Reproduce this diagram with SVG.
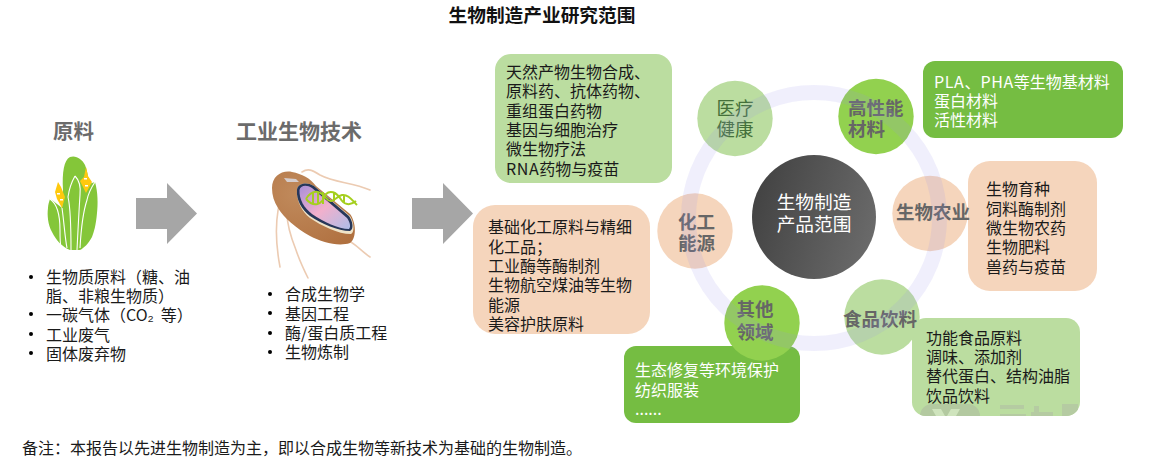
<svg xmlns="http://www.w3.org/2000/svg" width="1164" height="463" viewBox="0 0 1164 463">
<style>
text{font-family:"Noto Sans CJK SC","Liberation Sans",sans-serif;font-size:16px;fill:#1a1a1a}
.w{fill:#fff}
.title{font-size:18.7px;font-weight:700;fill:#111;text-anchor:middle}
.head{font-family:"Liberation Serif","Noto Sans CJK SC",serif;font-weight:700;fill:#6b6b6b;font-size:20.5px}
.lab{font-size:18.5px;font-weight:700;fill:#666;text-anchor:middle}
.peach{fill:#f5d5bc}.lg{fill:#bbdda0}.dg{fill:#75bd42}.br{fill:#92d14f}
.fl{fill:none;stroke:#eccbb2;stroke-width:1.6;stroke-linecap:round}
.wl{fill:none;stroke:#fff;stroke-width:1.100}
.dna{fill:none;stroke:#a5cf1e;stroke-width:2}
.sp{letter-spacing:0.6px}
</style>
<defs>
<linearGradient id="cg" x1="0" y1="0.3" x2="1" y2="0.6"><stop offset="0" stop-color="#424242"/><stop offset="1" stop-color="#6a6a6a"/></linearGradient>
<radialGradient id="bac" cx="0.3" cy="0.3" r="0.9"><stop offset="0" stop-color="#c08a5c"/><stop offset="1" stop-color="#b0703f"/></radialGradient>
<linearGradient id="cyt" x1="0" y1="0" x2="1" y2="1"><stop offset="0" stop-color="#a98fd8"/><stop offset="0.5" stop-color="#f2b0cc"/><stop offset="1" stop-color="#aebde8"/></linearGradient>
<clipPath id="foodclip"><rect x="912" y="318" width="168" height="98" rx="14"/></clipPath>
</defs>

<text class="title" x="542" y="21.500">生物制造产业研究范围</text>

<g id="raw">
<text class="head" x="53" y="139">原料</text>
<g id="corn-icon">
<path fill="#84c639" d="M50 199C54 201 58 205 62 208L63 190C62 172 64 160 70 157C76 155 82 159 85 165C87 170 88 175 89 184L95 182C98 192 98 205 97 213C96 225 94 232 92 237C88 244 84 248 80 250L70 250C62 247 56 240 52 232C48 225 47 215 48 208C48 205 49 202 50 199Z"/>
<path class="wl" d="M50 199C56 203 60 214 60 230C60 238 60 243 61 248M75 176C71 183 69 190 68 197C71 210 71 230 71 250M75 176C79 180 81 186 80 195C79 210 78 230 77 250M95 182C91 188 88 195 87 200C83 212 81 230 80 248M62 208C64 222 65 238 67 248"/>
<path fill="#ffc90e" d="M58 182L61 187L65 197L62 208L57 199L55 192Z"/>
<path fill="#ffc90e" d="M86 167L88 176L92 182L86 193L80 181L84 177Z"/>
<path fill="#fff" d="M57 193h3v1.500h-3zM60 199h3v1.500h-3zM84 178h3v1.500h-3zM85 185h3v1.500h-3z"/>
</g>
<circle cx="31" cy="277" r="2"/><text x="46" y="282.500">生物质原料（糖、油</text>
<text x="46" y="302">脂、非粮生物质）</text>
<circle cx="31" cy="314" r="2"/><text x="46" y="321">一碳气体（CO₂<tspan dx="7">等）</tspan></text>
<circle cx="31" cy="334" r="2"/><text x="46" y="340.500">工业废气</text>
<circle cx="31" cy="353" r="2"/><text x="46" y="359.500">固体废弃物</text>
</g>

<g id="tech">
<text class="head" x="236" y="139" style="font-size:21px">工业生物技术</text>
<g id="bacterium-icon">
<path class="fl" d="M302 172C308 168 312 170 320 175C335 183 352 182 370 190M347 240C355 243 362 252 370 257M283 192C276 210 274 235 280 267M287 213C287 225 292 240 296 250C300 262 304 270 308 278"/>
<path fill="url(#bac)" d="M272 188C272 176 282 170 292 172C302 174 310 178 316 186L350 214C356 222 357 238 350 243C338 247 322 242 310 236C296 228 284 218 278 208C274 202 272 195 272 188Z"/>
<path fill="#d9d9e2" d="M284 178l12 1l3 3l-12 0z" opacity="0.85"/>
<path fill="#efe3c8" d="M297 190C297 184 306 181 314 186L350 216C354 222 355 232 351 234C338 234 322 226 310 218C302 212 296 200 297 190Z"/>
<path fill="#27375a" d="M297 190C297 184 306 181 314 186L349 216C353 222 354 229 350 231C338 231 322 224 310 216C302 210 296 200 297 190Z"/>
<path fill="url(#cyt)" d="M299.500 190C300 186 306 184 312 188L347 218C350 222 351 227 349 229C338 229 324 222 312 214C304 208 299 199 299.500 190Z"/>
<path class="dna" d="M306 199C312 189 320 190 326 198C332 206 336 196 342 195C348 194 352 200 357 205M306 199C314 208 322 205 326 194C330 190 336 192 340 198C344 205 350 206 356 201M313 193v10M318 192v12M323 192v12M334 193v8M344 195v8"/>
</g>
<circle cx="270" cy="294" r="2"/><text x="285" y="300">合成生物学</text>
<circle cx="270" cy="313" r="2"/><text x="285" y="319.500">基因工程</text>
<circle cx="270" cy="333" r="2"/><text x="285" y="339">酶/蛋白质工程</text>
<circle cx="270" cy="352" r="2"/><text x="285" y="358">生物炼制</text>
</g>

<g id="connectors" fill="#a6a6a6">
<path d="M136 198H167V183L197 213.500L167 244V229H136Z"/>
<path d="M412 198H443V183L473 213.500L443 244V229H412Z"/>
</g>

<g id="box-medical">
<rect class="lg" x="495" y="54" width="177" height="129" rx="16"/>
<text x="506" y="78">天然产物生物合成、</text>
<text x="506" y="97.300">原料药、抗体药物、</text>
<text x="506" y="116.600">重组蛋白药物</text>
<text x="506" y="136">基因与细胞治疗</text>
<text x="506" y="155.300">微生物疗法</text>
<text x="506" y="174.600"><tspan class="sp">RNA</tspan>药物与疫苗</text>
</g>
<g id="box-chem">
<rect class="peach" x="473" y="205" width="177" height="129" rx="22"/>
<text x="488" y="233">基础化工原料与精细</text>
<text x="488" y="252.500">化工品；</text>
<text x="488" y="272">工业酶等酶制剂</text>
<text x="488" y="291">生物航空煤油等生物</text>
<text x="488" y="310.500">能源</text>
<text x="488" y="330">美容护肤原料</text>
</g>
<g id="box-material">
<rect class="dg" x="923" y="61" width="200" height="77" rx="12"/>
<text class="w" x="934" y="87.500"><tspan class="sp">PLA</tspan>、<tspan class="sp">PHA</tspan>等生物基材料</text>
<text class="w" x="934" y="107">蛋白材料</text>
<text class="w" x="934" y="126">活性材料</text>
</g>
<g id="box-agri">
<rect class="peach" x="968" y="161" width="129" height="130" rx="22"/>
<text x="986" y="195">生物育种</text>
<text x="986" y="214.500">饲料酶制剂</text>
<text x="986" y="234">微生物农药</text>
<text x="986" y="253">生物肥料</text>
<text x="986" y="272.500">兽药与疫苗</text>
</g>
<g id="box-food">
<rect class="lg" x="912" y="318" width="168" height="98" rx="14"/>
<g clip-path="url(#foodclip)">
<rect x="920" y="404" width="60" height="30" rx="12" fill="#b3c9a0"/>
<path fill="#cfe4bd" d="M932 409h9l4 7h2l4-7h9l-8 14h-12z"/>
<path fill="#b5cba2" d="M1000 405h24v4h-24zM1000 414h26v4h-26zM1034 406h5v12h-5zM1031 412h22v4h-22zM1062 404h16v16h-16z"/>
</g>
<text x="926" y="343.500">功能食品原料</text>
<text x="926" y="363">调味、添加剂</text>
<text x="926" y="382">替代蛋白、结构油脂</text>
<text x="926" y="401.500">饮品饮料</text>
</g>
<g id="box-other">
<rect class="dg" x="624" y="346" width="176" height="77" rx="12"/>
<text class="w" x="635" y="376">生态修复等环境保护</text>
<text class="w" x="635" y="395.500">纺织服装</text>
<text class="w" x="635" y="415">......</text>
</g>

<g id="node-medical">
<circle class="lg" cx="735" cy="118.500" r="37.700"/>
<text class="lab" x="735" y="114.500" style="font-weight:400;fill:#44703a">医疗</text>
<text class="lab" x="735" y="136" style="font-weight:400;fill:#44703a">健康</text>
</g>
<g id="node-material">
<circle class="br" cx="876" cy="116.500" r="37.700"/>
<text class="lab" x="848" y="114.500" style="text-anchor:start">高性能</text>
<text class="lab" x="848" y="136" style="text-anchor:start">材料</text>
</g>
<g id="node-agri">
<circle class="peach" cx="930" cy="213.500" r="37.700"/>
<text class="lab" x="933" y="219">生物农业</text>
</g>
<g id="node-food">
<circle class="lg" cx="882" cy="317" r="37.700"/>
<text class="lab" x="880" y="326">食品饮料</text>
</g>
<g id="node-other">
<circle class="br" cx="762" cy="323" r="37.700"/>
<text class="lab" x="755" y="316">其他</text>
<text class="lab" x="755" y="339">领域</text>
</g>
<g id="node-chem">
<circle class="peach" cx="695" cy="231" r="37.700"/>
<text class="lab" x="696.500" y="229">化工</text>
<text class="lab" x="696.500" y="250">能源</text>
</g>

<g id="ring">
<circle cx="814" cy="218" r="125.500" fill="none" stroke="#9b94eb" stroke-opacity="0.15" stroke-width="15"/>
</g>

<g id="node-center">
<circle cx="814" cy="217" r="62" fill="url(#cg)"/>
<text class="w" x="814" y="209" text-anchor="middle" style="font-size:18.700px">生物制造</text>
<text class="w" x="814" y="231" text-anchor="middle" style="font-size:18.700px">产品范围</text>
</g>

<text x="22" y="454">备注：本报告以先进生物制造为主，即以合成生物等新技术为基础的生物制造。</text>
</svg>
